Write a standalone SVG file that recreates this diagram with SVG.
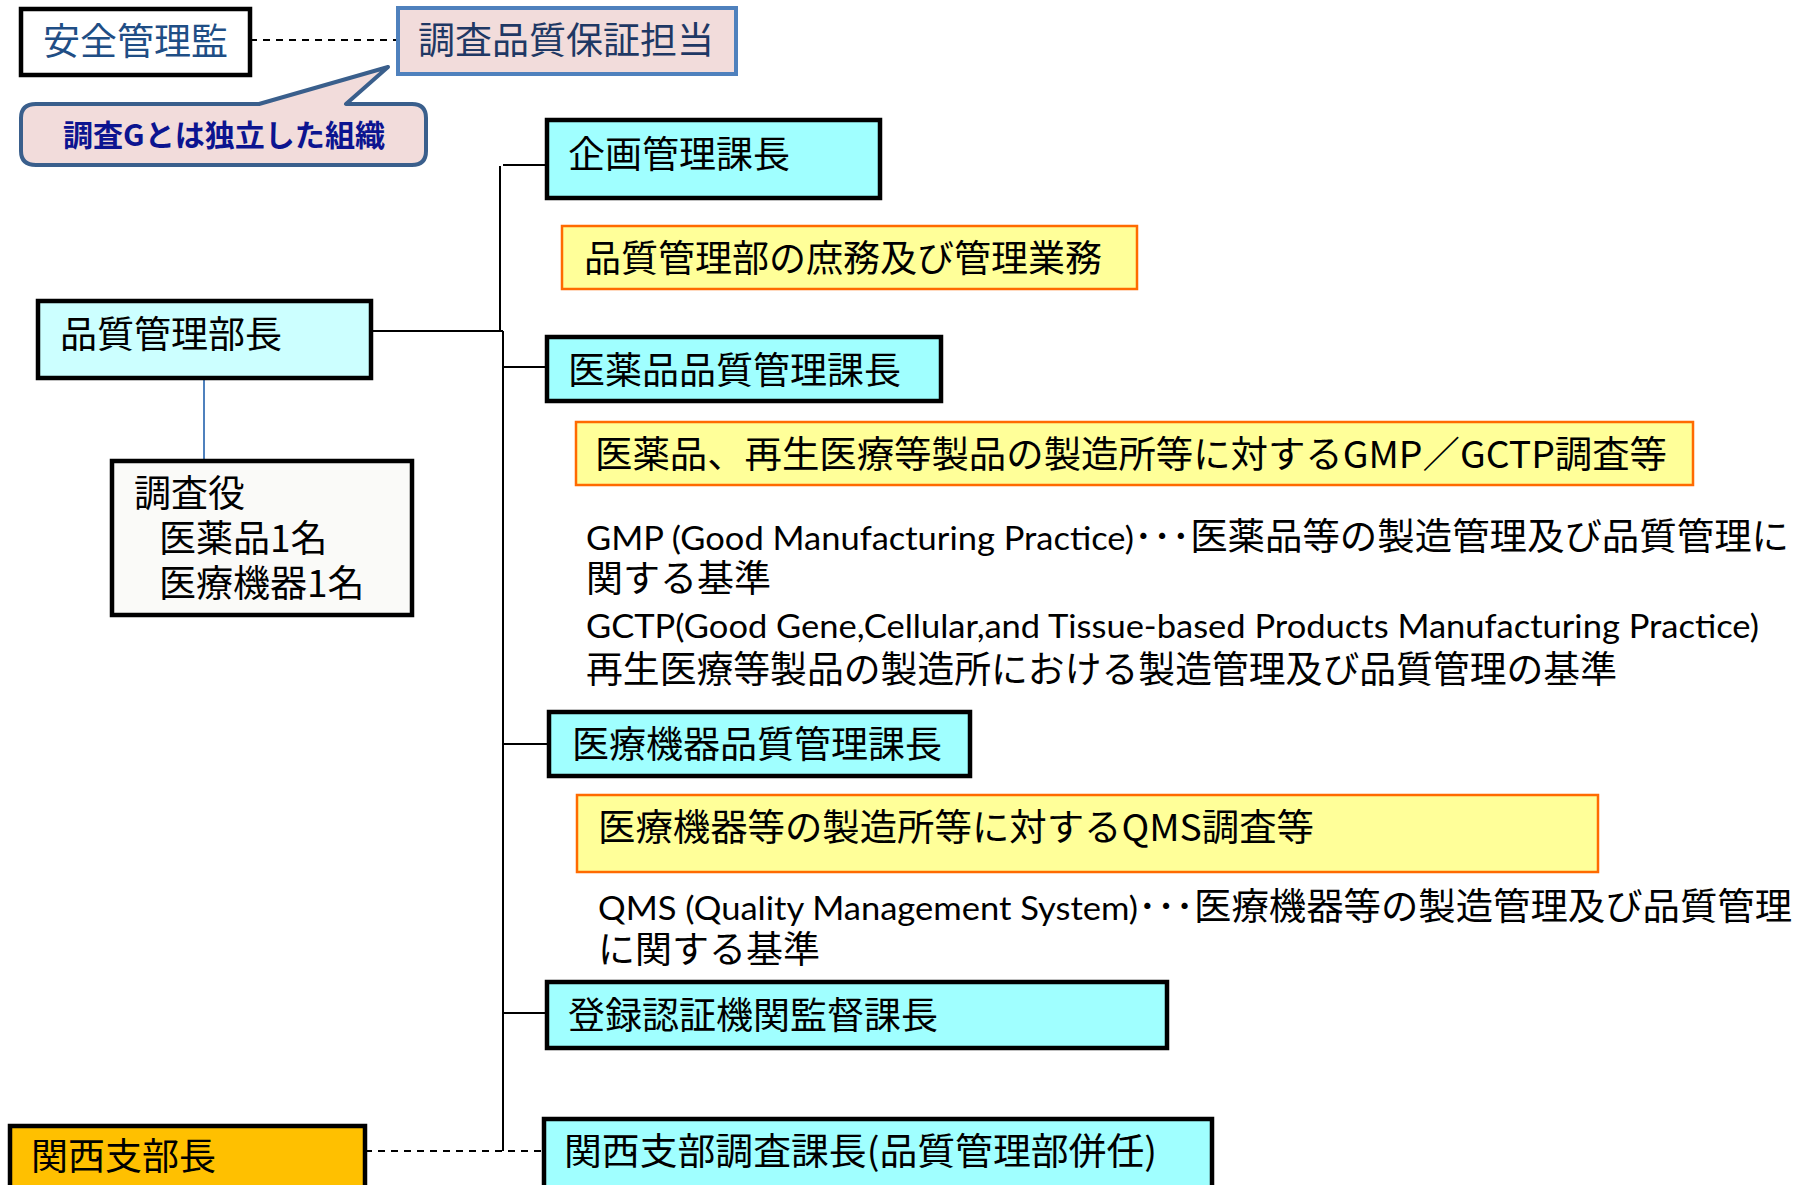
<svg xmlns="http://www.w3.org/2000/svg" width="1806" height="1185" viewBox="0 0 1806 1185">
<style>
text{font-family:"Noto Sans CJK JP","Noto Sans",sans-serif;font-size:37px;fill:#000}
.en{font-family:Lato,"Liberation Sans",sans-serif;font-size:33px}
.box{stroke:#000;stroke-width:4.5}
.cyan{fill:#a0ffff}
.yel{fill:#ffff99;stroke:#ff6a00;stroke-width:2.5}
.ln{stroke:#000;stroke-width:2;fill:none}
.dash{stroke:#000;stroke-width:2;stroke-dasharray:7,6;fill:none}
</style>
<rect width="1806" height="1185" fill="#fff"/>
<g id="connectors">
<line class="dash" x1="250" y1="40" x2="397" y2="40"/>
<line class="ln" x1="500" y1="166" x2="500" y2="331"/>
<line class="ln" x1="503" y1="331" x2="503" y2="1151"/>
<line class="ln" x1="371" y1="331" x2="503" y2="331"/>
<line class="ln" x1="503" y1="165" x2="547" y2="165"/>
<line class="ln" x1="503" y1="367" x2="547" y2="367"/>
<line class="ln" x1="503" y1="744" x2="549" y2="744"/>
<line class="ln" x1="503" y1="1013" x2="547" y2="1013"/>
<line stroke="#4f81bd" stroke-width="2" x1="204" y1="378" x2="204" y2="461"/>
<line class="dash" x1="365" y1="1151" x2="544" y2="1151"/>
</g>
<g id="anzen">
<rect x="21" y="9" width="229" height="66" fill="#fff" class="box"/>
<text x="43" y="55" style="fill:#1f4e85">安全管理監</text>
</g>
<g id="chosa-hinshitsu">
<rect x="398" y="8" width="338" height="66" fill="#f2dcdb" stroke="#4f81bd" stroke-width="4"/>
<text x="418" y="54" style="fill:#1f3864">調査品質保証担当</text>
</g>
<g id="callout">
<path d="M36,104 H259 L388,67 L346,104 H412 Q426,104 426,118 V151 Q426,165 412,165 H36 Q21,165 21,151 V118 Q21,104 36,104 Z" fill="#f2dcdb" stroke="#3a5f8c" stroke-width="4" stroke-linejoin="round"/>
<text x="63" y="146" style="font-size:30px;font-weight:bold;fill:#0c1490" textLength="322" lengthAdjust="spacingAndGlyphs">調査Gとは独立した組織</text>
</g>
<g id="buchou">
<rect x="38" y="301" width="333" height="77" fill="#ccffff" class="box"/>
<text x="60" y="348">品質管理部長</text>
</g>
<g id="chosayaku">
<rect x="112" y="461" width="300" height="154" fill="#fafaf8" class="box"/>
<text x="134" y="507">調査役</text>
<text x="159" y="552">医薬品1名</text>
<text x="159" y="597">医療機器1名</text>
</g>
<g id="kikaku">
<rect x="547" y="120" width="333" height="78" class="box cyan"/>
<text x="568" y="168">企画管理課長</text>
</g>
<g id="kikaku-desc">
<rect x="562" y="226" width="575" height="63" class="yel"/>
<text x="584" y="272">品質管理部の庶務及び管理業務</text>
</g>
<g id="iyakuhin">
<rect x="547" y="337" width="394" height="64" class="box cyan"/>
<text x="568" y="384">医薬品品質管理課長</text>
</g>
<g id="iyakuhin-desc">
<rect x="576" y="422" width="1117" height="63" class="yel"/>
<text x="595" y="468" textLength="1072" lengthAdjust="spacingAndGlyphs">医薬品、再生医療等製品の製造所等に対するGMP／GCTP調査等</text>
</g>
<g id="gmp-note">
<text class="en" x="586" y="550" textLength="548" lengthAdjust="spacingAndGlyphs">GMP (Good Manufacturing Practice)</text>
<text x="1134" y="550" textLength="655" lengthAdjust="spacingAndGlyphs">･･･医薬品等の製造管理及び品質管理に</text>
<text x="586" y="592">関する基準</text>
<text class="en" x="586" y="638" textLength="1173" lengthAdjust="spacingAndGlyphs">GCTP(Good Gene,Cellular,and Tissue-based Products Manufacturing Practice)</text>
<text x="586" y="683" textLength="1031" lengthAdjust="spacingAndGlyphs">再生医療等製品の製造所における製造管理及び品質管理の基準</text>
</g>
<g id="iryokiki">
<rect x="549" y="712" width="421" height="64" class="box cyan"/>
<text x="572" y="758">医療機器品質管理課長</text>
</g>
<g id="iryokiki-desc">
<rect x="577" y="795" width="1021" height="77" class="yel"/>
<text x="598" y="841" textLength="716" lengthAdjust="spacingAndGlyphs">医療機器等の製造所等に対するQMS調査等</text>
</g>
<g id="qms-note">
<text class="en" x="598" y="920" textLength="540" lengthAdjust="spacingAndGlyphs">QMS (Quality Management System)</text>
<text x="1138" y="920" textLength="654" lengthAdjust="spacingAndGlyphs">･･･医療機器等の製造管理及び品質管理</text>
<text x="598" y="963">に関する基準</text>
</g>
<g id="toroku">
<rect x="547" y="982" width="620" height="66" class="box cyan"/>
<text x="568" y="1029">登録認証機関監督課長</text>
</g>
<g id="kansai-shibucho">
<rect x="10" y="1126" width="355" height="70" fill="#ffc000" class="box"/>
<text x="31" y="1170">関西支部長</text>
</g>
<g id="kansai-chosa">
<rect x="544" y="1119" width="668" height="75" class="box cyan"/>
<text x="564" y="1165" textLength="593" lengthAdjust="spacingAndGlyphs">関西支部調査課長(品質管理部併任)</text>
</g>
</svg>
